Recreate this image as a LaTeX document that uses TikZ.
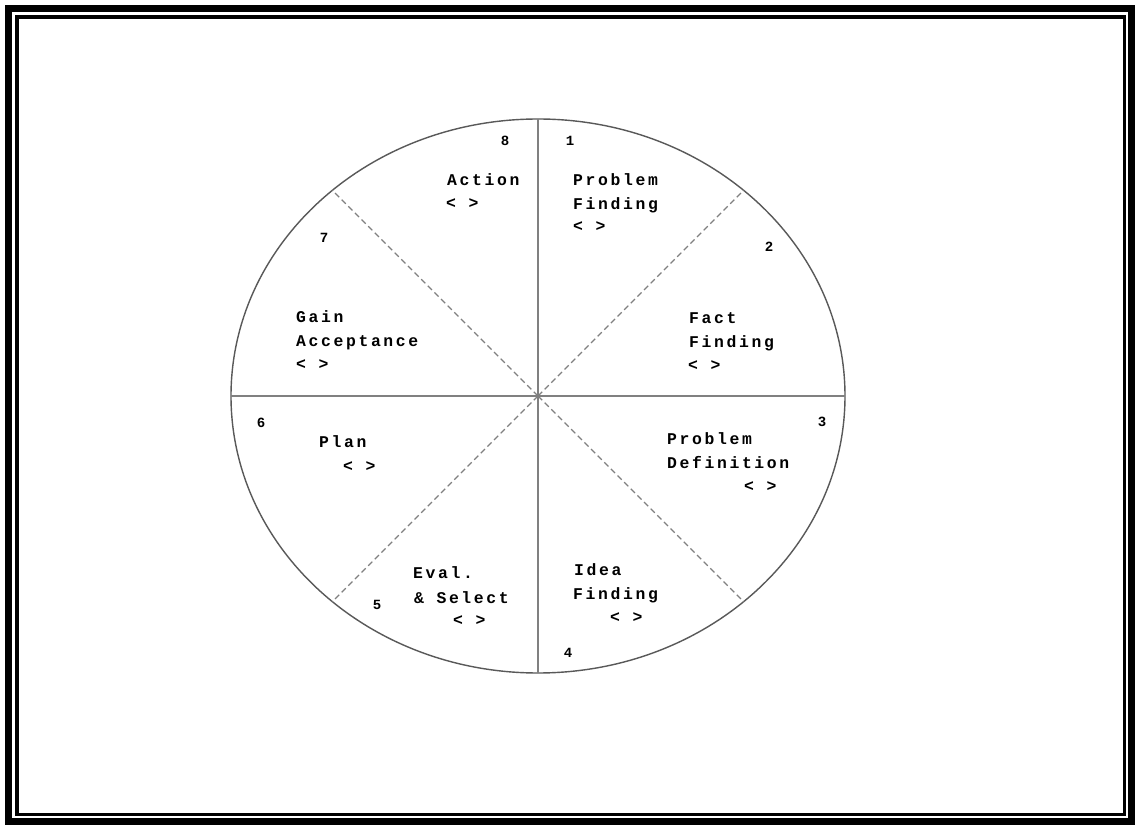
\documentclass[tikz,border=0pt]{standalone}
\usepackage{fontspec}
\newfontfamily\wheelfont[LetterSpace=16]{Liberation Mono}
\begin{document}
\begin{tikzpicture}[x=0.03cm, y=-0.03cm,
        spoke/.style={draw=gray, line width=1.5pt},
        diag/.style={draw=gray, dashed, line width=1pt, dash pattern=on 5pt off 3pt},
        txt/.style={anchor=base west, inner sep=0pt, font=\wheelfont\bfseries\fontsize{14}{14}\selectfont},
        num/.style={inner sep=0pt, font=\wheelfont\bfseries\fontsize{12}{12}\selectfont}]
        \useasboundingbox (0,0) rectangle (1135,825);
        \fill[white] (0,0) rectangle (1135,825);
    % double frame
        \draw[line width=6pt] (8.5,8.5) rectangle (1132,822);
        \draw[line width=3.2pt] (17,17) rectangle (1124.5,814.5);
    % wheel
        \coordinate (c) at (538,396);
        \coordinate (n) at (538,119);
        \coordinate (s) at (538,673);
        \coordinate (w) at (231,396);
        \coordinate (e) at (845,396);
        \coordinate (ne) at (743.7,190.3);
        \coordinate (se) at (743.7,601.7);
        \coordinate (sw) at (332.3,601.7);
        \coordinate (nw) at (332.3,190.3);
        \draw[gray!70!black, line width=1.2pt] (c) ellipse [x radius=307, y radius=277];
        \foreach \p in {n,s,w,e} {
            \draw[spoke] (c) -- (\p);
        }
        \foreach \p in {ne,se,sw,nw} {
            \draw[diag] (c) -- (\p);
        }
    % step numbers
        \node[num] (n8) at (505,141) {8};
        \node[num] (n1) at (570,141) {1};
        \node[num] (n2) at (769,247) {2};
        \node[num] (n3) at (822,422) {3};
        \node[num] (n4) at (568,653) {4};
        \node[num] (n5) at (377,605) {5};
        \node[num] (n6) at (261,423) {6};
        \node[num] (n7) at (324,238) {7};
    % step labels
        \node[txt] (act) at (447,186) {Action};
        \node[txt] (acta) at (446,209) {< >};
        \node[txt] (pf) at (573,186) {Problem};
        \node[txt] (pfb) at (573,210) {Finding};
        \node[txt] (pfa) at (573,232) {< >};
        \node[txt] (ff) at (689,324) {Fact};
        \node[txt] (ffb) at (689,348) {Finding};
        \node[txt] (ffa) at (688,371) {< >};
        \node[txt] (pd) at (667,445) {Problem};
        \node[txt] (pdb) at (667,469) {Definition};
        \node[txt] (pda) at (744,492) {< >};
        \node[txt] (idf) at (574,576) {Idea};
        \node[txt] (idfb) at (573,600) {Finding};
        \node[txt] (idfa) at (610,623) {< >};
        \node[txt] (evs) at (413,579) {Eval.};
        \node[txt] (evsb) at (414,604) {\& Select};
        \node[txt] (evsa) at (453,626) {< >};
        \node[txt] (pln) at (319,448) {Plan};
        \node[txt] (plna) at (343,472) {< >};
        \node[txt] (gac) at (296,323) {Gain};
        \node[txt] (gacb) at (296,347) {Acceptance};
        \node[txt] (gaca) at (296,370) {< >};
    \end{tikzpicture}
\end{document}
